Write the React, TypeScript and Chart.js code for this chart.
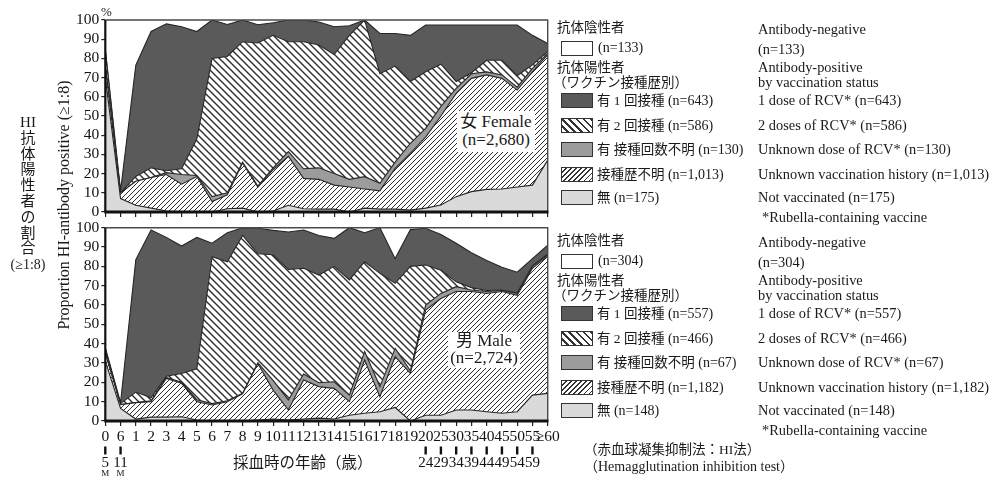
import React, { useEffect, useRef } from 'react';
import { Chart, registerables } from 'chart.js';
Chart.register(...registerables);

// ---------- categories / tick labels ----------
const ageLabels = ['0','6','1','2','3','4','5','6','7','8','9','10','11','12','13','14','15','16','17','18','19','20','25','30','35','40','45','50','55','≥60'];
const ageRangeEndLabels = ['5','11','','','','','','','','','','','','','','','','','','','','24','29','34','39','44','49','54','59',''];
const ageUnitLabels = ['M','M','','','','','','','','','','','','','','','','','','','','','','','','','','','',''];

// ---------- Female (%) by vaccination status ----------
const femaleNotVaccinated = [70,7,3.5,2,0.5,0,0,0,1.7,2,0,0.5,3.5,1.7,1.5,1.5,0,2,1.5,1.5,1,2,3.6,8,10.6,11.8,12,13,14,27];
const femaleUnknownHistory = [6,3,12.5,16,19,14.5,18.5,5.5,7.3,23.5,13,21.5,25.5,15.8,15.5,12.5,13,10,9.5,21.2,29.5,37,46.4,53.8,59,59.6,57.6,50.5,59,54.8];
const femaleUnknownDose = [0,0,0,0,1,5,0.5,2.5,1,0.5,0.5,1,2.5,5,6,6,4,6.4,4,3.3,5.3,4.6,5,2.6,2.4,1.6,1.8,1.5,1.8,0.8];
const femaleTwoDoses = [8,0,2.5,5,1,3,19,72,71,62.7,74.5,69,57.2,66.2,64,62,75,81.6,57,50,32.2,29.4,22,3.6,0.5,6,7.6,6,1.8,0.9];
const femaleOneDose = [1,1,58,71,76.5,74,56,20,16.7,11.3,9.5,6.6,11.3,11.3,12,14.5,5,0,21,17,24,24.4,20.4,29.4,24.9,18.4,18.4,26.4,15.4,4.3];

// ---------- Male (%) by vaccination status ----------
const maleNotVaccinated = [31,6.5,1,2,2,2.2,0.5,0,0,0,0.5,1,0.5,1,1.5,1,3,4,4.8,7,0,3,3,5.7,5.7,4.8,4,4.8,13.4,14.3];
const maleUnknownHistory = [4,2,8.5,8,20,17.3,9.5,8.3,10,14,29.3,15,5.2,20.2,16.3,15.9,7,27.5,7.8,26.3,24.6,54.4,60.4,61.3,61.3,61.2,63,60.2,65.6,71];
const maleUnknownDose = [0,0,0,0.5,0.5,0.5,1,0.7,0.5,0.3,0.4,5,5.2,3.1,2,3.4,3.4,4.4,5.2,4.3,1.4,2.6,2.6,2.5,0.8,1,0.5,1,1,0.7];
const maleTwoDoses = [2,0.5,5.5,1.5,0.7,4.6,16,76,71.9,81.7,56.3,65,67.5,54.7,55.7,59.7,59.6,46.5,58.6,33.6,54,20.7,12,2.5,1.2,0.5,0.3,0.2,0.3,0.3];
const maleOneDose = [1,0.5,68.5,86.8,71.8,65.9,68,7,15,4,13.2,12.6,19.4,19.8,20.5,14.5,27,15,23.6,12.8,19,19,18.5,20,18,15.5,11.7,10.8,3.7,4.7];

// ---------- legend counts ----------
const femaleNegativeN = '133';
const femaleLegendN = ['643', '586', '130', '1,013', '175'];
const maleNegativeN = '304';
const maleLegendN = ['557', '466', '67', '1,182', '148'];
const legendJp = ['有 1 回接種', '有 2 回接種', '有 接種回数不明', '接種歴不明', '無'];
const legendEn = ['1 dose of RCV*', '2 doses of RCV*', 'Unknown dose of RCV*', 'Unknown vaccination history', 'Not vaccinated'];

// ---------- styles ----------
const SERIF = "'Liberation Serif', 'Noto Sans CJK JP', serif";
const DARK = '#5a5a5a';
const MID = '#9c9c9c';
const LIGHT = '#dadada';
const EDGE = '#262626';
const CSS_BACK = 'repeating-linear-gradient(45deg, #fff 0px, #fff 3.4px, #333 3.4px, #333 5px)';
const CSS_FWD = 'repeating-linear-gradient(135deg, #fff 0px, #fff 2.5px, #333 2.5px, #333 3.6px)';
const legendFills = [DARK, CSS_BACK, MID, CSS_FWD, LIGHT];

const PLOT_RIGHT = 547.7;
const BOTTOM_CANVAS_TOP = 214;

function hatch(kind: 'fwd' | 'back') {
  const s = kind === 'fwd' ? 5 : 7;
  const c = document.createElement('canvas');
  c.width = s; c.height = s;
  const g = c.getContext('2d')!;
  g.fillStyle = '#fff';
  g.fillRect(0, 0, s, s);
  g.strokeStyle = '#2e2e2e';
  g.lineWidth = kind === 'fwd' ? 1 : 1.4;
  g.beginPath();
  if (kind === 'fwd') {
    g.moveTo(0, s); g.lineTo(s, 0);
    g.moveTo(-1, 1); g.lineTo(1, -1);
    g.moveTo(s - 1, s + 1); g.lineTo(s + 1, s - 1);
  } else {
    g.moveTo(0, 0); g.lineTo(s, s);
    g.moveTo(s - 1, -1); g.lineTo(s + 1, 1);
    g.moveTo(-1, s - 1); g.lineTo(1, s + 1);
  }
  g.stroke();
  return g.createPattern(c, 'repeat')!;
}

const framePlugin = {
  id: 'frame',
  afterDatasetsDraw(chart: any) {
    const { ctx, chartArea: a } = chart;
    ctx.save();
    ctx.strokeStyle = '#4a4a4a';
    ctx.lineWidth = 1.4;
    ctx.beginPath();
    ctx.moveTo(a.left, a.top); ctx.lineTo(a.right, a.top); ctx.lineTo(a.right, a.bottom);
    ctx.stroke();
    ctx.strokeStyle = '#111';
    ctx.lineWidth = 2.2;
    ctx.beginPath();
    ctx.moveTo(a.left, a.top); ctx.lineTo(a.left, a.bottom);
    ctx.stroke();
    ctx.lineWidth = 3;
    ctx.beginPath();
    ctx.moveTo(a.left - 1, a.bottom); ctx.lineTo(a.right + 0.7, a.bottom);
    ctx.stroke();
    ctx.restore();
  },
};

const subLabelPlugin = {
  id: 'subLabels',
  afterDraw(chart: any) {
    const { ctx } = chart;
    const xs = chart.scales.x;
    ctx.save();
    ctx.fillStyle = '#111';
    ctx.textAlign = 'center';
    ctx.textBaseline = 'middle';
    ageRangeEndLabels.forEach((t, i) => {
      if (!t) return;
      const x = xs.getPixelForValue(i);
      ctx.fillRect(x - 1.2, 446.5 - BOTTOM_CANVAS_TOP, 2.4, 8);
      ctx.font = `15px ${SERIF}`;
      ctx.fillText(t, x, 463 - BOTTOM_CANVAS_TOP);
    });
    ageUnitLabels.forEach((t, i) => {
      if (!t) return;
      const x = xs.getPixelForValue(i);
      ctx.font = `9px ${SERIF}`;
      ctx.fillText(t, x, 473.5 - BOTTOM_CANVAS_TOP);
    });
    ctx.restore();
  },
};

function makeChart(
  canvas: HTMLCanvasElement,
  series: number[][],
  showLabels: boolean,
  padTop: number,
  xHeight: number
) {
  const fwd = hatch('fwd');
  const back = hatch('back');
  const fills: any[] = [LIGHT, fwd, MID, back, DARK];
  const names = ['無', '接種歴不明', '有 接種回数不明', '有 2回接種', '有 1回接種'];
  const tickFont = { family: SERIF, size: 15.5 };
  return new Chart(canvas, {
    type: 'line',
    data: {
      labels: ageLabels,
      datasets: series.map((data, i) => ({
        label: names[i],
        data,
        backgroundColor: fills[i],
        borderColor: EDGE,
        borderWidth: 1.1,
        pointRadius: 0,
        tension: 0,
        fill: i === 0 ? 'origin' : '-1',
      })),
    },
    options: {
      animation: false,
      responsive: false,
      devicePixelRatio: 1,
      layout: { padding: { top: padTop, left: 0, right: 998 - PLOT_RIGHT, bottom: 0 } },
      plugins: { legend: { display: false }, tooltip: { enabled: false } },
      scales: {
        x: {
          type: 'category',
          offset: false,
          grid: { display: true, drawOnChartArea: false, drawTicks: true, tickLength: 5, color: '#222', lineWidth: 1.2 },
          border: { display: false },
          ticks: { display: showLabels, autoSkip: false, maxRotation: 0, minRotation: 0, padding: 2, color: '#111', font: tickFont },
          afterFit: (sc: any) => { sc.height = xHeight; },
        },
        y: {
          stacked: true,
          min: 0,
          max: 100,
          grid: { display: true, drawOnChartArea: false, drawTicks: true, tickLength: 4, color: '#222', lineWidth: 1.2 },
          border: { display: false },
          ticks: { stepSize: 10, autoSkip: false, padding: 2, color: '#111', font: tickFont },
          afterFit: (sc: any) => { sc.width = 105.3; },
        },
      },
    } as any,
    plugins: showLabels ? [framePlugin, subLabelPlugin] : [framePlugin],
  });
}

const T = ({ x, y, size = 13.5, children, style }: any) => (
  <div
    style={{
      position: 'absolute',
      left: x,
      top: y - size * 0.6,
      fontSize: size,
      lineHeight: `${size * 1.2}px`,
      fontFamily: SERIF,
      color: '#1a1a1a',
      whiteSpace: 'nowrap',
      ...style,
    }}
  >
    {children}
  </div>
);

const Box = ({ x, y, bg }: any) => (
  <div
    style={{
      position: 'absolute',
      left: x,
      top: y,
      width: 32,
      height: 15,
      boxSizing: 'border-box',
      border: '1px solid #333',
      background: bg,
    }}
  />
);

function Legend({ dy, negN, ns }: any) {
  const rows = [101, 126, 150, 175, 198];
  const en = 14.4;
  return (
    <>
      <T x={557} y={28 + dy}>抗体陰性者</T>
      <Box x={561} y={41 + dy} bg="#fff" />
      <T x={598} y={48 + dy} size={14}>(n={negN})</T>
      <T x={557} y={68 + dy}>抗体陽性者</T>
      <T x={553} y={83 + dy}>（ワクチン接種歴別）</T>
      {rows.map((ry, i) => (
        <React.Fragment key={i}>
          <Box x={561} y={ry - 8 + dy} bg={legendFills[i]} />
          <T x={597} y={ry + dy}>{legendJp[i]} <span style={{ fontSize: 14 }}>(n={ns[i]})</span></T>
          <T x={758} y={ry + dy} size={en}>{legendEn[i]} (n={ns[i]})</T>
        </React.Fragment>
      ))}
      <T x={758} y={30 + dy} size={en}>Antibody-negative</T>
      <T x={758} y={50 + dy} size={en}>(n={negN})</T>
      <T x={758} y={68 + dy} size={en}>Antibody-positive</T>
      <T x={758} y={83 + dy} size={en}>by vaccination status</T>
      <T x={762} y={218 + dy} size={en}>*Rubella-containing vaccine</T>
    </>
  );
}

export default function App() {
  const topRef = useRef<HTMLCanvasElement>(null);
  const botRef = useRef<HTMLCanvasElement>(null);

  useEffect(() => {
    const top = makeChart(
      topRef.current!,
      [femaleNotVaccinated, femaleUnknownHistory, femaleUnknownDose, femaleTwoDoses, femaleOneDose],
      false,
      20,
      14
    );
    const bot = makeChart(
      botRef.current!,
      [maleNotVaccinated, maleUnknownHistory, maleUnknownDose, maleTwoDoses, maleOneDose],
      true,
      227.7 - BOTTOM_CANVAS_TOP,
      56
    );
    return () => {
      top.destroy();
      bot.destroy();
    };
  }, []);

  const jpVertical = ['HI', '抗', '体', '陽', '性', '者', 'の', '割', '合'];

  return (
    <div style={{ position: 'fixed', left: 0, top: 0, width: 998, height: 477, background: '#fff', overflow: 'hidden' }}>
      <canvas ref={topRef} width={998} height={226} style={{ position: 'absolute', left: 0, top: 0, width: 998, height: 226 }} />
      <canvas ref={botRef} width={998} height={263} style={{ position: 'absolute', left: 0, top: BOTTOM_CANVAS_TOP, width: 998, height: 263 }} />

      {/* left titles */}
      {jpVertical.map((c, i) => (
        <div
          key={i}
          style={{
            position: 'absolute', left: 8, width: 40, top: 114 + i * 15.8, height: 16, lineHeight: '16px',
            textAlign: 'center', fontSize: 15, fontFamily: SERIF, color: '#1a1a1a',
          }}
        >
          {c}
        </div>
      ))}
      <div style={{ position: 'absolute', left: 3, width: 50, top: 257, height: 16, lineHeight: '16px', textAlign: 'center', fontSize: 14, fontFamily: SERIF, color: '#1a1a1a' }}>
        (≥1:8)
      </div>
      <div
        style={{
          position: 'absolute', left: 64 - 160, top: 205 - 10, width: 320, height: 20, lineHeight: '20px',
          textAlign: 'center', fontSize: 16, fontFamily: SERIF, color: '#1a1a1a', transform: 'rotate(-90deg)', whiteSpace: 'nowrap',
        }}
      >
        Proportion HI-antibody positive (≥1:8)
      </div>
      <T x={101} y={12} size={13}>%</T>

      {/* panel labels */}
      <div style={{ position: 'absolute', left: 457, top: 111, width: 78, height: 41, background: '#fff' }} />
      <T x={496} y={122} size={17} style={{ transform: 'translateX(-50%)' }}>女 Female</T>
      <T x={496} y={140} size={17} style={{ transform: 'translateX(-50%)' }}>(n=2,680)</T>
      <div style={{ position: 'absolute', left: 448, top: 332, width: 72, height: 36, background: '#fff' }} />
      <T x={484} y={341} size={17} style={{ transform: 'translateX(-50%)' }}>男 Male</T>
      <T x={484} y={358} size={17} style={{ transform: 'translateX(-50%)' }}>(n=2,724)</T>

      {/* x title */}
      <T x={233} y={463} size={15.5}>採血時の年齢（歳）</T>

      <Legend dy={0} negN={femaleNegativeN} ns={femaleLegendN} />
      <Legend dy={213} negN={maleNegativeN} ns={maleLegendN} />

      <T x={584} y={450} size={13.5}>（赤血球凝集抑制法：HI法）</T>
      <T x={584} y={467} size={14}>（Hemagglutination inhibition test）</T>
    </div>
  );
}
